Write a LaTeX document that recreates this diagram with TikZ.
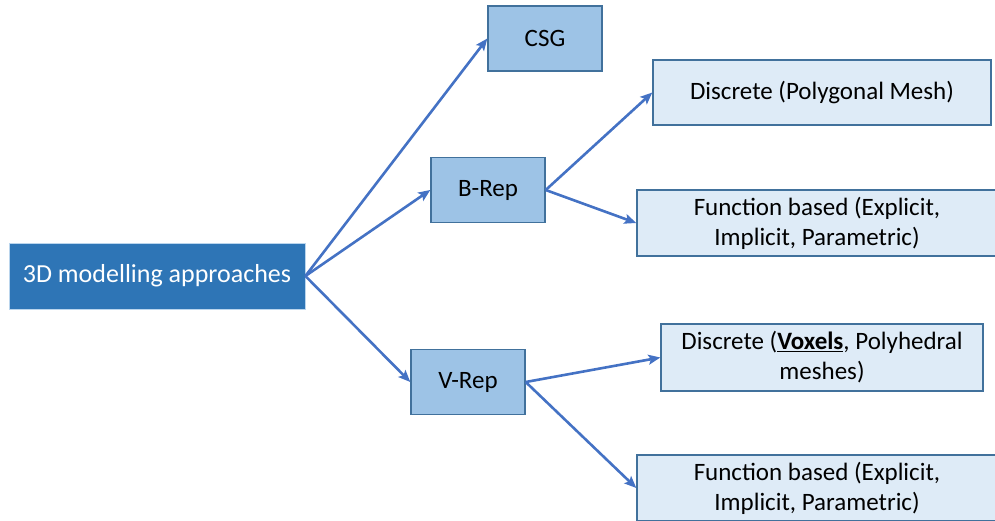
\documentclass[tikz,border=0pt]{standalone}
\usepackage{fontspec}
\setmainfont{Carlito}
\usetikzlibrary{arrows.meta}
\definecolor{rootblue}{HTML}{2E75B6}
\definecolor{midblue}{HTML}{9DC3E6}
\definecolor{paleblue}{HTML}{DEEBF7}
\definecolor{edgeblue}{HTML}{41719C}
\definecolor{arrowblue}{HTML}{4472C4}
\tikzset{
  rootbox/.style={draw=midblue!70!white, line width=0.8pt, fill=rootblue, text=white,
    minimum width=296pt, minimum height=66pt, inner sep=0pt,
    font=\fontsize{26}{30}\selectfont},
  repbox/.style={draw=edgeblue, line width=1.4pt, fill=midblue,
    minimum width=114pt, minimum height=65pt, inner sep=0pt,
    font=\fontsize{25}{30}\selectfont},
  leafbox/.style={draw=edgeblue, line width=1.4pt, fill=paleblue, align=center,
    minimum height=66pt, inner sep=0pt,
    font=\fontsize{25}{30}\selectfont},
  link/.style={draw=arrowblue, line width=2.6pt,
    -{Stealth[length=12pt, width=10pt, inset=2.5pt]}},
}
\begin{document}
\begin{tikzpicture}[x=1pt, y=-1pt]
  \useasboundingbox (0,0) rectangle (995,520);
  \clip (0,0) rectangle (995,520);

  \node[rootbox] (root) at (157,276) {3D modelling approaches};

  \node[repbox] (csg)  at (545,38.5) {CSG};
  \node[repbox] (brep) at (488,190) {B-Rep};
  \node[repbox] (vrep) at (468,382) {V-Rep};

  \node[leafbox, minimum width=338pt, minimum height=65pt] (bdisc) at (822,92.5)
    {Discrete (Polygonal Mesh)};
  \node[leafbox, minimum width=360pt] (bfunc) at (817,223)
    {Function based (Explicit,\\Implicit, Parametric)};
  \node[leafbox, minimum width=322pt, minimum height=67pt] (vdisc) at (822,357.5)
    {Discrete (\underline{\textbf{Voxels}}, Polyhedral\\meshes)};
  \node[leafbox, minimum width=360pt] (vfunc) at (817,488)
    {Function based (Explicit,\\Implicit, Parametric)};

  \draw[link] (root.east) -- (csg.west);
  \draw[link] (root.east) -- (brep.west);
  \draw[link] (root.east) -- (vrep.west);
  \draw[link] (brep.east) -- (bdisc.west);
  \draw[link] (brep.east) -- (bfunc.west);
  \draw[link] (vrep.east) -- (vdisc.west);
  \draw[link] (vrep.east) -- (vfunc.west);
\end{tikzpicture}
\end{document}
